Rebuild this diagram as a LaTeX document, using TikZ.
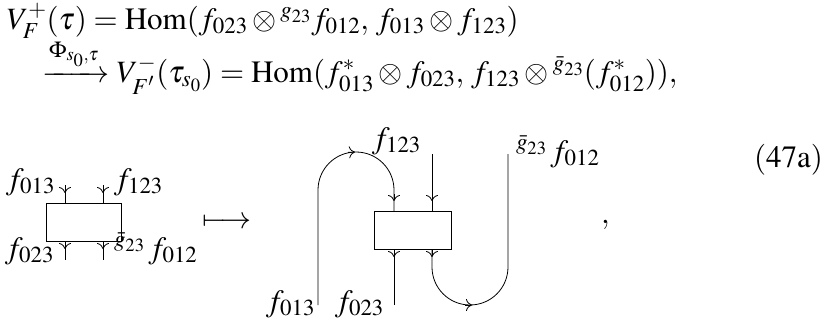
\documentclass[tikz,border=0pt]{standalone}
\usepackage{amsmath}
\usepackage{mathptmx}
\usepackage[no-math]{fontspec}
\setmainfont{Liberation Serif}
\usetikzlibrary{arrows.meta}
\tikzset{
  lbl/.style={font=\fontsize{31}{37}\selectfont, inner sep=0pt, outer sep=0pt},
  strand/.style={line width=0.8pt},
  tip/.style={line width=0.8pt, -{Computer Modern Rightarrow[length=6pt,width=12pt,line width=0.8pt]}},
  morph/.style={draw, line width=0.8pt, inner sep=0pt, minimum width=77pt, minimum height=38pt},
}
\begin{document}
\begin{tikzpicture}[x=1pt,y=-1pt]
\useasboundingbox (0,0) rectangle (831,325);
% equations
\node[lbl, anchor=base west] (eq1) at (7,29) {$V_{\boldsymbol{F}}^{+}(\tau) = \mathrm{Hom}(f_{023}\otimes {}^{g_{23}}f_{012},\, f_{013}\otimes f_{123})$};
\node[lbl, anchor=base west] (eq2) at (42,82) {$\xrightarrow{\Phi_{s_0,\tau}} V^{-}_{\boldsymbol{F}'}(\tau_{s_0}) = \mathrm{Hom}(f^*_{013}\otimes f_{023},\, f_{123}\otimes {}^{\bar g_{23}}(f^*_{012})),$};
\node[lbl, anchor=base east] (num) at (823,167) {$(47\mathrm{a})$};

% left diagram
\node[morph, minimum width=75pt] (bx1) at (83.5,222) {};
\coordinate (lt1) at (65,185);
\coordinate (lt2) at (103,185);
\coordinate (lb1) at (65,260);
\coordinate (lb2) at (103,260);
\draw[strand] (lt1) -- (lt1 |- bx1.north);
\draw[strand] (lt2) -- (lt2 |- bx1.north);
\draw[strand] (lb1 |- bx1.south) -- (lb1);
\draw[strand] (lb2 |- bx1.south) -- (lb2);
\draw[tip] (65,187) -- (65,193);
\draw[tip] (103,187) -- (103,193);
\draw[tip] (65,243) -- (65,249);
\draw[tip] (103,243) -- (103,249);
\node[lbl, anchor=base east] (la1) at (55,189) {$f_{013}$};
\node[lbl, anchor=base west] (la2) at (114,189) {$f_{123}$};
\node[lbl, anchor=base east] (la3) at (54,258) {$f_{023}$};
\node[lbl, anchor=base west] (la4) at (114,258) {${}^{\bar g_{23}}\,f_{012}$};

\node[lbl] (mapsto) at (227,223) {$\longmapsto$};

% right diagram
\node[morph] (bx2) at (412.5,230) {};
\coordinate (r1b) at (318,305);
\coordinate (r2t) at (432,154);
\coordinate (r3b) at (394,305);
\coordinate (r5t) at (508,154);
\draw[strand] (r1b) -- (318,190) .. controls (318,169) and (335,152) .. (356,152)
  .. controls (377,152) and (394,169) .. (394,190) -- (394,211);
\draw[strand] (r2t) -- (r2t |- bx2.north);
\draw[strand] (r3b |- bx2.south) -- (r3b);
\draw[strand] (432,249) -- (432,267) .. controls (432,288) and (449,305) .. (470,305)
  .. controls (491,305) and (508,288) .. (508,267) -- (r5t);
\draw[tip] (348,152.4) -- (355,152);
\draw[tip] (465,305) -- (472,305);
\draw[tip] (394,194) -- (394,201);
\draw[tip] (432,194) -- (432,201);
\draw[tip] (394,250) -- (394,257);
\draw[tip] (432,250) -- (432,257);
\node[lbl, anchor=base west] (ra1) at (372,148) {$f_{123}$};
\node[lbl, anchor=base west] (ra2) at (516,161) {${}^{\bar g_{23}}\,f_{012}$};
\node[lbl, anchor=base east] (ra3) at (315,311) {$f_{013}$};
\node[lbl, anchor=base west] (ra4) at (335,311) {$f_{023}$};
\node[lbl, anchor=base west] (comma) at (601,223) {$,$};
\end{tikzpicture}
\end{document}
